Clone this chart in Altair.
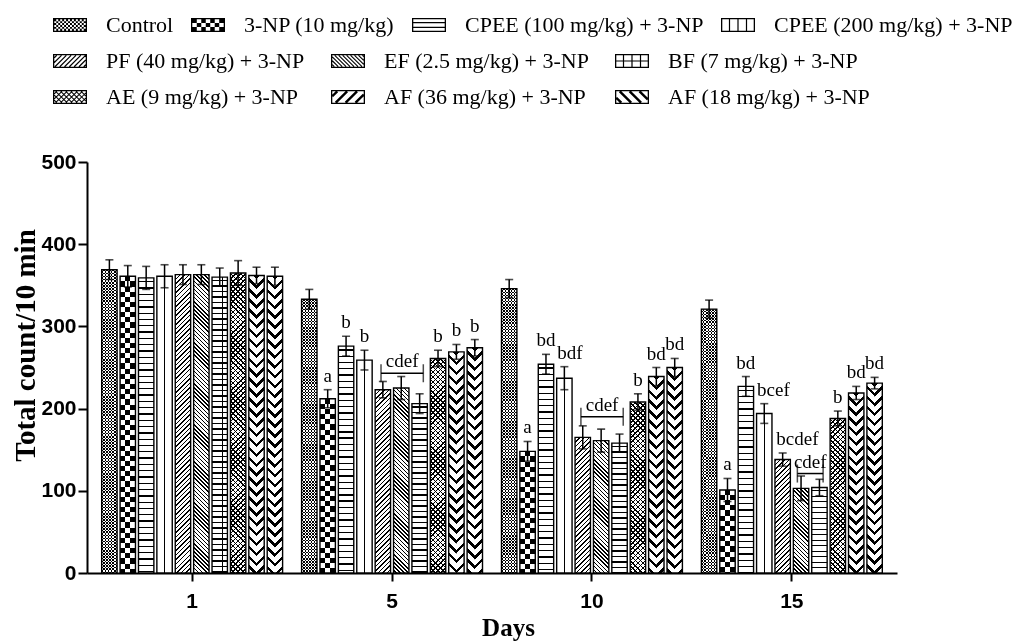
import math
import altair as alt
import pandas as pd

# ---------------- data ----------------
SERIES = ["Control", "3-NP (10 mg/kg)", "CPEE (100 mg/kg) + 3-NP", "CPEE (200 mg/kg) + 3-NP",
          "PF (40 mg/kg) + 3-NP", "EF (2.5 mg/kg) + 3-NP", "BF (7 mg/kg) + 3-NP",
          "AE (9 mg/kg) + 3-NP", "AF (36 mg/kg) + 3-NP", "AF (18 mg/kg) + 3-NP"]
DAYS = ["1", "5", "10", "15"]
MEAN_DAY1 = [369, 361, 359, 361, 363, 363, 360, 365, 362, 361]
SEM_DAY1 = [12, 13, 14, 14, 12, 12, 11, 15, 10, 11]
MEAN_DAY5 = [333, 212, 276, 259, 223, 225, 206, 261, 269, 274]
SEM_DAY5 = [12, 11, 12, 12, 10, 14, 12, 10, 9, 10]
MEAN_DAY10 = [346, 148, 254, 237, 165, 161, 158, 208, 239, 250]
SEM_DAY10 = [11, 12, 12, 14, 14, 14, 11, 10, 11, 11]
MEAN_DAY15 = [321, 101, 227, 194, 138, 103, 104, 188, 219, 231]
SEM_DAY15 = [11, 14, 12, 12, 8, 15, 10, 9, 8, 7]

LBL_DAY = ["5", "5", "5", "5", "5", "5",
           "10", "10", "10", "10", "10", "10",
           "15", "15", "15", "15", "15", "15", "15"]
LBL_POS = [1, 2, 3, 7, 8, 9,
           1, 2, 3.3, 7, 8, 9,
           1, 2, 3.5, 4.8, 7, 8, 9]
LBL_TEXT = ["a", "b", "b", "b", "b", "b",
            "a", "bd", "bdf", "b", "bd", "bd",
            "a", "bd", "bcef", "bcdef", "b", "bd", "bd"]

BR_DAY = ["5", "10", "15"]
BR_START = [3.9, 3.9, 4.8]
BR_END = [6.2, 6.2, 6.2]
BR_LEVEL = [243, 190, 121]
BR_TEXT = ["cdef", "cdef", "cdef"]

# ---------------- tables ----------------
rows = []
for d, means, sems in zip(DAYS, [MEAN_DAY1, MEAN_DAY5, MEAN_DAY10, MEAN_DAY15],
                          [SEM_DAY1, SEM_DAY5, SEM_DAY10, SEM_DAY15]):
    for i, s in enumerate(SERIES):
        rows.append({"day": d, "series": s, "idx": i, "mean": means[i], "sem": sems[i]})
df = pd.DataFrame(rows)
top_of = {(r["day"], r["idx"]): r["mean"] + r["sem"] for r in rows}

df_lbl = pd.DataFrame({
    "day": LBL_DAY, "pos": LBL_POS, "lab": LBL_TEXT,
    "top": [top_of[(d, int(p))] for d, p in zip(LBL_DAY, LBL_POS)],
})
br_rows = []
for b, (d, s0, s1, lv) in enumerate(zip(BR_DAY, BR_START, BR_END, BR_LEVEL)):
    br_rows.append({"bid": b, "day": d, "pos": s0, "level": lv})
    br_rows.append({"bid": b, "day": d, "pos": s1, "level": lv})
df_br = pd.DataFrame(br_rows)
df_brt = pd.DataFrame({"day": BR_DAY, "level": BR_LEVEL, "lab": BR_TEXT,
                       "pos": [(a + b) / 2 for a, b in zip(BR_START, BR_END)]})

# ---------------- layout / style ----------------
PLOT_W, PLOT_H = 810, 411
YMAX = 500
X_PAD_IN, X_PAD_OUT = 0.08, 0.066
OFF_PAD_IN = 0.163
step = PLOT_W / (len(DAYS) - X_PAD_IN + 2 * X_PAD_OUT)
BAR_W = step * (1 - X_PAD_IN) / len(SERIES) * (1 - OFF_PAD_IN)
PXU = PLOT_H / YMAX

TICK_FONT = "Liberation Sans"
SERIF = "Liberation Serif"
BLACK, WHITE, CLEAR = "#000000", "#ffffff", "rgba(255,255,255,0)"


def stripe_stops(n, frac, on, off, phase=0.0):
    segs = []
    k = -2
    while True:
        a = (k + phase) / n
        if a >= 1:
            break
        b = (k + phase + frac) / n
        a2, b2 = max(a, 0.0), min(b, 1.0)
        if b2 > a2:
            segs.append((a2, b2))
        k += 1
    out, cur = [], 0.0
    for a, b in segs:
        if a > cur:
            out += [(cur, off), (a, off)]
        out += [(a, on), (b, on)]
        cur = b
    if cur < 1.0:
        out += [(cur, off), (1.0, off)]
    return out


def grad_expr(kind, param, frac, on, off, phase=0.0, w=BAR_W):
    h = f"(datum.mean*{PXU:.6f})"
    if kind == "v":
        st = stripe_stops(param, frac, on, off, phase)
        x1, y1, x2, y2 = "0", "0", "1", "0"
    elif kind == "h":
        n = math.ceil(PLOT_H / param) + 1
        st = stripe_stops(n, frac, on, off, phase)
        x1, y1, x2, y2 = "0", "0", "0", f"({n * param:.4f}/{h})"
    else:
        n = math.ceil((PLOT_H + w) / (param * math.sqrt(2))) + 2
        st = stripe_stops(n, frac, on, off, phase)
        k = f"({h}/{w:.5f})"
        s = f"({n * param * math.sqrt(2) / w:.5f}/(1+{k}*{k}))"
        if kind == "d1":   # '/' lines, start top-left
            x1, y1, x2, y2 = "0", "0", s, f"({k}*{s})"
        else:              # '\' lines, start top-right
            x1, y1, x2, y2 = "1", "0", f"(1-{s})", f"({k}*{s})"
    stops = ",".join("{offset:%.5f,color:'%s'}" % (o, c) for o, c in st)
    return "{gradient:'linear',x1:%s,y1:%s,x2:%s,y2:%s,stops:[%s]}" % (x1, y1, x2, y2, stops)


CHEV_P = 7.0
CHEV_PHASE = (BAR_W / (2 * CHEV_P * math.sqrt(2))) % 1.0

# (kind, param, frac, on, off, phase, blend, half)
PATTERNS = {
    SERIES[0]: [("v", 5, 0.5, BLACK, WHITE, 0.0, None, False),
                ("h", 3.08, 0.5, WHITE, BLACK, 0.0, "difference", False)],
    SERIES[1]: [("v", 1.5, 0.5, BLACK, WHITE, 0.0, None, False),
                ("h", 10.26, 0.5, WHITE, BLACK, 0.0, "difference", False)],
    SERIES[2]: [("h", 6.3, 0.21, BLACK, WHITE, 0.5, None, False)],
    SERIES[3]: [("v", 1, 0.08, BLACK, WHITE, 0.46, None, False)],
    SERIES[4]: [("d1", 3.2, 0.33, BLACK, WHITE, 0.0, None, False)],
    SERIES[5]: [("d2", 2.9, 0.36, BLACK, WHITE, 0.0, None, False)],
    SERIES[6]: [("h", 5.5, 0.22, BLACK, WHITE, 0.5, None, False),
                ("v", 3, 0.09, BLACK, CLEAR, -0.045, None, False)],
    SERIES[7]: [("d1", 3.6, 0.3, BLACK, WHITE, 0.0, None, False),
                ("d2", 3.6, 0.3, BLACK, CLEAR, 0.0, None, False)],
    SERIES[8]: [("d2", CHEV_P, 0.36, BLACK, WHITE, CHEV_PHASE, None, False),
                ("d1", CHEV_P, 0.36, BLACK, WHITE, 0.0, None, True)],
    SERIES[9]: [("d2", CHEV_P, 0.36, BLACK, WHITE, CHEV_PHASE, None, False),
                ("d1", CHEV_P, 0.36, BLACK, WHITE, 0.0, None, True)],
}

# ---------------- legend icons (custom SVG paths) ----------------
IW, IH, FR = 34.0, 14.0, 1.3
R = IW / 2
IX0, IY0, IX1, IY1 = FR, FR, IW - FR, IH - FR


def poly(pts, positive=True):
    n = len(pts)
    area = sum(pts[i][0] * pts[(i + 1) % n][1] - pts[(i + 1) % n][0] * pts[i][1] for i in range(n))
    if (area > 0) != positive:
        pts = pts[::-1]
    return "M" + " L".join("%.4f,%.4f" % ((x - R) / R, (y - IH / 2) / R) for x, y in pts) + " Z"


def rect(x0, y0, x1, y1, positive=True):
    return poly([(x0, y0), (x1, y0), (x1, y1), (x0, y1)], positive)


def frame():
    return rect(0, 0, IW, IH) + " " + rect(IX0, IY0, IX1, IY1, False)


def hlines(ys, lw=1.2):
    return [rect(IX0, y - lw / 2, IX1, y + lw / 2) for y in ys]


def vlines(xs, lw=1.2):
    return [rect(x - lw / 2, IY0, x + lw / 2, IY1) for x in xs]


def checker(nx, ny):
    cw, ch = (IX1 - IX0) / nx, (IY1 - IY0) / ny
    return [rect(IX0 + i * cw, IY0 + j * ch, IX0 + (i + 1) * cw, IY0 + (j + 1) * ch)
            for i in range(nx) for j in range(ny) if (i + j) % 2 == 0]


def diag(direction, period, lw):
    out, st, hw = [], period * math.sqrt(2), lw / 2 / math.sqrt(2)
    if direction == "/":
        c = IX0 + IY0 + st / 2
        while c < IX1 + IY1:
            xa, xb = max(IX0, c - IY1), min(IX1, c - IY0)
            if xb - xa > 0.3:
                A, B = (xa, c - xa), (xb, c - xb)
                out.append(poly([(A[0] + hw, A[1] + hw), (B[0] + hw, B[1] + hw),
                                 (B[0] - hw, B[1] - hw), (A[0] - hw, A[1] - hw)]))
            c += st
    else:
        c = IX0 - IY1 + st / 2
        while c < IX1 - IY0:
            xa, xb = max(IX0, c + IY0), min(IX1, c + IY1)
            if xb - xa > 0.3:
                A, B = (xa, xa - c), (xb, xb - c)
                out.append(poly([(A[0] + hw, A[1] - hw), (B[0] + hw, B[1] - hw),
                                 (B[0] - hw, B[1] + hw), (A[0] - hw, A[1] + hw)]))
            c += st
    return out


ICON_PARTS = [
    checker(16, 6),
    checker(7, 3),
    hlines([IH / 3, 2 * IH / 3]),
    vlines([IW / 4, IW / 2, 3 * IW / 4]),
    diag("/", 3.4, 1.2),
    diag("\\", 2.8, 1.1),
    vlines([IW / 4, IW / 2, 3 * IW / 4]) + hlines([IH / 2]),
    diag("/", 3.6, 1.0) + diag("\\", 3.6, 1.0),
    diag("/", 7.0, 2.4),
    diag("\\", 7.0, 2.4),
]
ICONS = [frame() + " " + " ".join(p) for p in ICON_PARTS]

# ---------------- encodings ----------------
X_SCALE = alt.Scale(type="band", domain=DAYS, paddingInner=X_PAD_IN, paddingOuter=X_PAD_OUT)
X_AXIS = alt.Axis(title="Days", labelAngle=0, labelFont=TICK_FONT, labelFontSize=21,
                  labelFontWeight="bold", labelColor="black", labelPadding=9,
                  tickSize=8, tickWidth=2, tickColor="black", domainColor="black", domainWidth=2,
                  titleFont=SERIF, titleFontSize=25, titleFontWeight="bold", titleColor="black",
                  titleX=421, titleY=54, titleBaseline="middle", grid=False)
Y_SCALE = alt.Scale(domain=[0, YMAX], nice=False, zero=True)
Y_AXIS = alt.Axis(title="Total count/10 min", values=[0, 100, 200, 300, 400, 500],
                  labelFont=TICK_FONT, labelFontSize=21, labelFontWeight="bold", labelColor="black",
                  labelPadding=2, tickSize=9, tickWidth=2, tickColor="black",
                  domainColor="black", domainWidth=2, grid=False,
                  titleFont=SERIF, titleFontSize=29, titleFontWeight="bold", titleColor="black",
                  titleAngle=270, titleX=-62, titleY=183, titleAlign="center", titleBaseline="middle")
OFF_BAND = alt.Scale(domain=SERIES, paddingInner=OFF_PAD_IN, paddingOuter=OFF_PAD_IN / 2)
HALF_PI = 1 - (1 - OFF_PAD_IN) / 2
OFF_HALF = alt.Scale(domain=SERIES, paddingInner=HALF_PI, paddingOuter=HALF_PI / 2, align=0.5 / HALF_PI)
OFF_Q = alt.Scale(domain=[-0.5, len(SERIES) - 0.5], nice=False, zero=False)


def X():
    return alt.X("day:N", sort=DAYS, scale=X_SCALE, axis=X_AXIS)


def Y(field):
    return alt.Y(field, type="quantitative", stack=None, scale=Y_SCALE, axis=Y_AXIS)


base = alt.Chart(df)
layers = []
for s in SERIES:
    for kind, param, frac, on, off, phase, blend, half in PATTERNS[s]:
        mk = {"strokeWidth": 0}
        if blend:
            mk["blend"] = blend
        w = BAR_W / 2 if half else BAR_W
        layers.append(
            base.transform_filter(alt.FieldEqualPredicate(field="series", equal=s))
            .transform_calculate(g=grad_expr(kind, param, frac, on, off, phase, w))
            .mark_bar(**mk)
            .encode(x=X(), xOffset=alt.XOffset("series:N", scale=OFF_HALF if half else OFF_BAND),
                    y=Y("mean"), fill=alt.Fill("g:N", scale=None, legend=None))
        )

outline = base.mark_bar(filled=False, color="black", strokeWidth=1.4).encode(
    x=X(), xOffset=alt.XOffset("series:N", scale=OFF_BAND), y=Y("mean"))

err = base.transform_calculate(lo="datum.mean - datum.sem", hi="datum.mean + datum.sem")
err_rule = err.mark_rule(color="black", strokeWidth=1.5).encode(
    x=X(), xOffset=alt.XOffset("idx:Q", scale=OFF_Q), y=Y("lo"), y2="hi:Q")
cap_hi = err.mark_tick(color="black", size=8, thickness=1.6).encode(
    x=X(), xOffset=alt.XOffset("idx:Q", scale=OFF_Q), y=Y("hi"))
cap_lo = err.mark_tick(color="black", size=8, thickness=1.6).encode(
    x=X(), xOffset=alt.XOffset("idx:Q", scale=OFF_Q), y=Y("lo"))

labels = alt.Chart(df_lbl).mark_text(font=SERIF, fontSize=19, color="black", baseline="middle", dy=-14).encode(
    x=X(), xOffset=alt.XOffset("pos:Q", scale=OFF_Q), y=Y("top"), text="lab:N")

br_line = alt.Chart(df_br).mark_line(color="black", strokeWidth=1.5).encode(
    x=X(), xOffset=alt.XOffset("pos:Q", scale=OFF_Q), y=Y("level"), detail="bid:N")
br_caps = alt.Chart(df_br).mark_tick(orient="vertical", color="black", size=18, thickness=1.5).encode(
    x=X(), xOffset=alt.XOffset("pos:Q", scale=OFF_Q), y=Y("level"))
br_text = alt.Chart(df_brt).mark_text(font=SERIF, fontSize=19, color="black", baseline="middle", dy=-12).encode(
    x=X(), xOffset=alt.XOffset("pos:Q", scale=OFF_Q), y=Y("level"), text="lab:N")


def legend_layer(field, names, icons, lx, ly, cols, colpad):
    d = pd.DataFrame({field: names, "day": DAYS[0], "mean": 0})
    return alt.Chart(d).mark_point(filled=True, opacity=0, color="black").encode(
        x=X(), y=Y("mean"),
        shape=alt.Shape(f"{field}:N", sort=names, scale=alt.Scale(domain=names, range=icons),
                        legend=alt.Legend(orient="none", legendX=lx, legendY=ly, direction="horizontal",
                                          columns=cols, title=None, symbolSize=IW * IW,
                                          symbolStrokeWidth=0, symbolFillColor="black", symbolOpacity=1,
                                          labelFont=SERIF, labelFontSize=22, labelColor="black",
                                          labelLimit=600, labelOffset=19, columnPadding=colpad,
                                          rowPadding=8)))


leg1 = legend_layer("legA", SERIES[:4], ICONS[:4], -34, -154, 4, 17)
leg2 = legend_layer("legB", SERIES[4:], ICONS[4:], -34, -118, 3, 26)

chart = (
    alt.layer(*layers, outline, err_rule, cap_hi, cap_lo, labels, br_line, br_caps, br_text, leg1, leg2)
    .resolve_scale(xOffset="independent", shape="independent")
    .properties(width=PLOT_W, height=PLOT_H, autosize=alt.AutoSizeParams(type="none"),
                padding={"left": 79, "top": 154, "right": 120, "bottom": 70}, background="white")
    .configure_view(stroke=None)
)

chart.save("out.html", embed_options={"renderer": "svg", "actions": False})
